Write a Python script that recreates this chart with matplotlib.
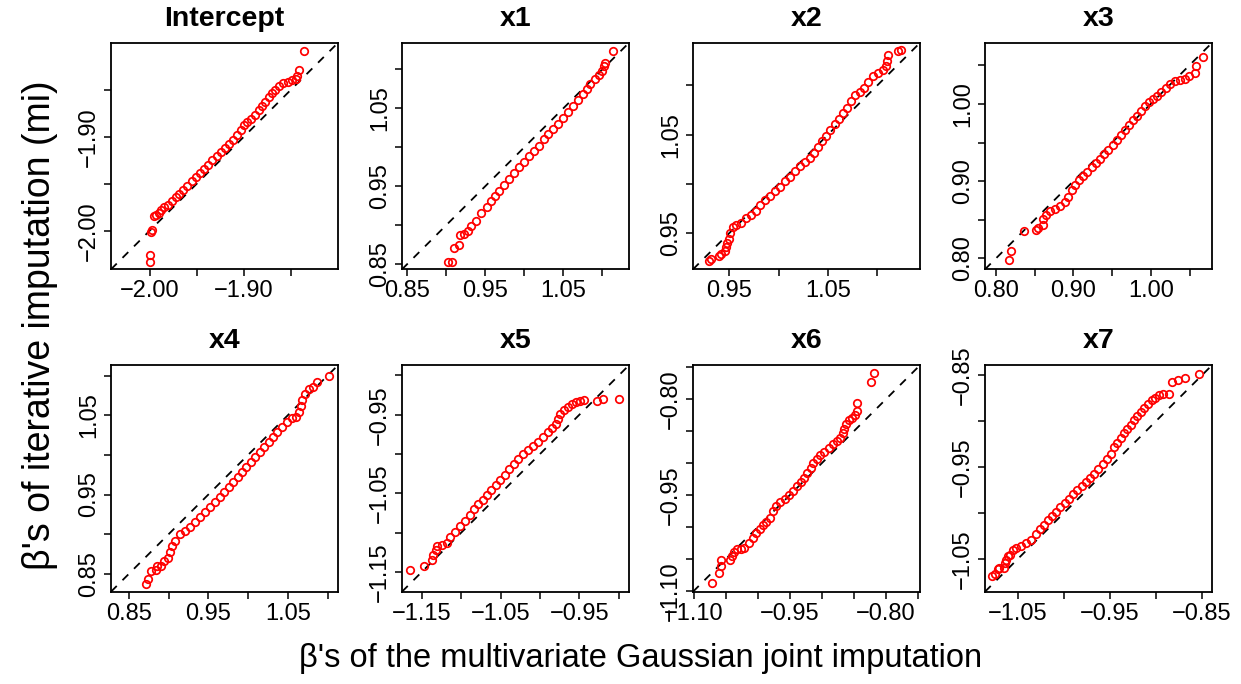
import matplotlib
matplotlib.use("Agg")
import matplotlib.pyplot as plt

plt.rcParams['font.family'] = ['Liberation Sans', 'DejaVu Sans']

panel_titles = ['Intercept', 'x1', 'x2', 'x3', 'x4', 'x5', 'x6', 'x7']

# sorted beta draws: joint imputation (x) vs iterative imputation (y)
intercept_joint = [-1.9993, -1.9993, -1.9986, -1.9972, -1.9958, -1.9933, -1.9905, -1.9877, -1.9845, -1.9810,
                   -1.9764, -1.9718, -1.9683, -1.9641, -1.9599, -1.9553, -1.9507, -1.9465, -1.9419, -1.9377,
                   -1.9335, -1.9289, -1.9243, -1.9201, -1.9155, -1.9113, -1.9070, -1.9035, -1.9000, -1.8965,
                   -1.8919, -1.8877, -1.8842, -1.8806, -1.8771, -1.8736, -1.8701, -1.8665, -1.8630, -1.8585,
                   -1.8532, -1.8486, -1.8451, -1.8433, -1.8415, -1.8356]
intercept_iter = [-2.0328, -2.0256, -2.0011, -1.9993, -1.9847, -1.9829, -1.9808, -1.9779, -1.9751, -1.9722,
                  -1.9687, -1.9644, -1.9608, -1.9566, -1.9519, -1.9473, -1.9430, -1.9387, -1.9341, -1.9295,
                  -1.9252, -1.9206, -1.9163, -1.9117, -1.9074, -1.9031, -1.8978, -1.8932, -1.8878, -1.8843,
                  -1.8807, -1.8771, -1.8718, -1.8675, -1.8629, -1.8575, -1.8533, -1.8497, -1.8462, -1.8433,
                  -1.8415, -1.8397, -1.8390, -1.8355, -1.8291, -1.8088]

x1_joint = [0.9021, 0.9081, 0.9097, 0.9161, 0.9174, 0.9229, 0.9280, 0.9314, 0.9377, 0.9449,
            0.9517, 0.9568, 0.9619, 0.9674, 0.9737, 0.9801, 0.9864, 0.9928, 0.9992, 1.0055,
            1.0119, 1.0182, 1.0246, 1.0309, 1.0373, 1.0436, 1.0500, 1.0564, 1.0627, 1.0691,
            1.0754, 1.0805, 1.0847, 1.0903, 1.0958, 1.0996, 1.1017, 1.1030, 1.1136]
x1_iter = [0.8534, 0.8534, 0.8706, 0.8753, 0.8873, 0.8886, 0.8920, 0.8993, 0.9057, 0.9152,
           0.9229, 0.9306, 0.9379, 0.9443, 0.9521, 0.9593, 0.9666, 0.9744, 0.9816, 0.9889,
           0.9958, 1.0022, 1.0108, 1.0172, 1.0237, 1.0301, 1.0378, 1.0451, 1.0524, 1.0601,
           1.0687, 1.0751, 1.0816, 1.0880, 1.0923, 1.0979, 1.1039, 1.1081, 1.1232]

x2_joint = [0.9295, 0.9315, 0.9396, 0.9416, 0.9456, 0.9473, 0.9480, 0.9500, 0.9513, 0.9540,
            0.9574, 0.9625, 0.9675, 0.9726, 0.9776, 0.9817, 0.9860, 0.9911, 0.9961, 1.0012,
            1.0062, 1.0113, 1.0163, 1.0214, 1.0264, 1.0315, 1.0359, 1.0399, 1.0443, 1.0483,
            1.0524, 1.0567, 1.0608, 1.0652, 1.0692, 1.0736, 1.0776, 1.0820, 1.0860, 1.0904,
            1.0955, 1.1005, 1.1056, 1.1082, 1.1096, 1.1106, 1.1207, 1.1241]
x2_iter = [0.9222, 0.9235, 0.9269, 0.9290, 0.9324, 0.9357, 0.9398, 0.9439, 0.9500, 0.9561,
           0.9585, 0.9609, 0.9653, 0.9687, 0.9721, 0.9788, 0.9833, 0.9880, 0.9928, 0.9968,
           1.0026, 1.0067, 1.0128, 1.0179, 1.0219, 1.0263, 1.0314, 1.0375, 1.0433, 1.0484,
           1.0545, 1.0603, 1.0660, 1.0722, 1.0773, 1.0840, 1.0898, 1.0932, 1.0976, 1.1034,
           1.1095, 1.1122, 1.1156, 1.1190, 1.1248, 1.1305, 1.1349, 1.1356]

x3_joint = [0.8172, 0.8193, 0.8365, 0.8519, 0.8541, 0.8605, 0.8614, 0.8648, 0.8700, 0.8764,
            0.8828, 0.8893, 0.8936, 0.8979, 0.9021, 0.9077, 0.9129, 0.9180, 0.9236, 0.9288,
            0.9343, 0.9395, 0.9451, 0.9506, 0.9558, 0.9609, 0.9665, 0.9717, 0.9773, 0.9824,
            0.9880, 0.9923, 0.9979, 1.0030, 1.0082, 1.0137, 1.0193, 1.0245, 1.0309, 1.0373,
            1.0438, 1.0494, 1.0567, 1.0588, 1.0674]
x3_iter = [0.7974, 0.8103, 0.8360, 0.8364, 0.8394, 0.8437, 0.8514, 0.8565, 0.8608, 0.8638,
           0.8681, 0.8736, 0.8801, 0.8886, 0.8950, 0.9015, 0.9066, 0.9122, 0.9177, 0.9237,
           0.9293, 0.9348, 0.9408, 0.9464, 0.9528, 0.9592, 0.9657, 0.9721, 0.9785, 0.9849,
           0.9914, 0.9978, 1.0021, 1.0063, 1.0106, 1.0149, 1.0205, 1.0256, 1.0299, 1.0308,
           1.0320, 1.0363, 1.0397, 1.0491, 1.0607]

x4_joint = [0.8709, 0.8742, 0.8772, 0.8847, 0.8855, 0.8906, 0.8947, 0.8989, 0.9023, 0.9043,
            0.9085, 0.9148, 0.9211, 0.9273, 0.9336, 0.9399, 0.9462, 0.9524, 0.9587, 0.9650,
            0.9700, 0.9754, 0.9809, 0.9867, 0.9921, 0.9976, 1.0034, 1.0089, 1.0143, 1.0202,
            1.0256, 1.0310, 1.0369, 1.0423, 1.0486, 1.0548, 1.0603, 1.0645, 1.0661, 1.0678,
            1.0716, 1.0766, 1.0812, 1.0862, 1.1017]
x4_iter = [0.8366, 0.8437, 0.8534, 0.8550, 0.8605, 0.8605, 0.8668, 0.8702, 0.8773, 0.8857,
           0.8920, 0.8996, 0.9038, 0.9088, 0.9151, 0.9214, 0.9277, 0.9340, 0.9403, 0.9466,
           0.9529, 0.9592, 0.9655, 0.9718, 0.9782, 0.9845, 0.9908, 0.9971, 1.0034, 1.0097,
           1.0160, 1.0223, 1.0286, 1.0349, 1.0412, 1.0466, 1.0483, 1.0538, 1.0622, 1.0693,
           1.0769, 1.0832, 1.0861, 1.0916, 1.1000]

x5_joint = [-1.1648, -1.1470, -1.1374, -1.1352, -1.1319, -1.1302, -1.1247, -1.1184, -1.1142, -1.1078,
            -1.1015, -1.0952, -1.0889, -1.0838, -1.0783, -1.0728, -1.0669, -1.0615, -1.0560, -1.0501,
            -1.0446, -1.0391, -1.0332, -1.0277, -1.0214, -1.0151, -1.0088, -1.0024, -0.9961, -0.9898,
            -0.9843, -0.9801, -0.9771, -0.9742, -0.9700, -0.9645, -0.9590, -0.9540, -0.9489, -0.9447,
            -0.9278, -0.9202, -0.8992]
x5_iter = [-1.1470, -1.1428, -1.1344, -1.1281, -1.1217, -1.1167, -1.1154, -1.1133, -1.1057, -1.0985,
           -1.0914, -1.0846, -1.0774, -1.0703, -1.0639, -1.0584, -1.0521, -1.0458, -1.0395, -1.0331,
           -1.0268, -1.0196, -1.0120, -1.0057, -1.0002, -0.9951, -0.9901, -0.9846, -0.9783, -0.9719,
           -0.9665, -0.9614, -0.9551, -0.9487, -0.9437, -0.9403, -0.9369, -0.9340, -0.9319, -0.9310,
           -0.9319, -0.9297, -0.9297]

x6_joint = [-1.0711, -1.0605, -1.0579, -1.0579, -1.0437, -1.0405, -1.0368, -1.0332, -1.0263, -1.0211,
            -1.0132, -1.0079, -1.0026, -0.9974, -0.9921, -0.9868, -0.9816, -0.9763, -0.9711, -0.9647,
            -0.9579, -0.9511, -0.9447, -0.9384, -0.9332, -0.9279, -0.9226, -0.9174, -0.9132, -0.9079,
            -0.9026, -0.8963, -0.8895, -0.8826, -0.8763, -0.8711, -0.8668, -0.8647, -0.8616, -0.8579,
            -0.8526, -0.8474, -0.8458, -0.8447, -0.8237, -0.8184]
x6_iter = [-1.0885, -1.0728, -1.0613, -1.0524, -1.0524, -1.0456, -1.0394, -1.0352, -1.0352, -1.0326,
           -1.0247, -1.0169, -1.0101, -1.0038, -0.9975, -0.9923, -0.9855, -0.9751, -0.9672, -0.9610,
           -0.9568, -0.9505, -0.9437, -0.9359, -0.9296, -0.9228, -0.9150, -0.9071, -0.9003, -0.8940,
           -0.8878, -0.8825, -0.8757, -0.8705, -0.8653, -0.8601, -0.8533, -0.8470, -0.8392, -0.8324,
           -0.8287, -0.8250, -0.8182, -0.8062, -0.7722, -0.7592]

x7_joint = [-1.0780, -1.0755, -1.0718, -1.0707, -1.0656, -1.0645, -1.0635, -1.0609, -1.0584, -1.0555,
            -1.0518, -1.0464, -1.0409, -1.0355, -1.0307, -1.0264, -1.0220, -1.0173, -1.0125, -1.0082,
            -1.0038, -0.9991, -0.9944, -0.9900, -0.9856, -0.9809, -0.9762, -0.9718, -0.9675, -0.9627,
            -0.9580, -0.9536, -0.9493, -0.9456, -0.9420, -0.9384, -0.9347, -0.9311, -0.9275, -0.9238,
            -0.9202, -0.9165, -0.9129, -0.9082, -0.9045, -0.9009, -0.8962, -0.8918, -0.8853, -0.8827,
            -0.8755, -0.8682, -0.8525]
x7_iter = [-1.0684, -1.0666, -1.0612, -1.0601, -1.0601, -1.0547, -1.0518, -1.0475, -1.0457, -1.0403,
           -1.0384, -1.0359, -1.0330, -1.0294, -1.0229, -1.0179, -1.0132, -1.0078, -1.0034, -0.9987,
           -0.9940, -0.9890, -0.9843, -0.9796, -0.9753, -0.9709, -0.9662, -0.9616, -0.9572, -0.9518,
           -0.9464, -0.9410, -0.9356, -0.9283, -0.9240, -0.9182, -0.9132, -0.9085, -0.9038, -0.8987,
           -0.8940, -0.8894, -0.8857, -0.8807, -0.8771, -0.8742, -0.8713, -0.8699, -0.8699, -0.8569,
           -0.8554, -0.8532, -0.8489]

joint_values = [intercept_joint, x1_joint, x2_joint, x3_joint, x4_joint, x5_joint, x6_joint, x7_joint]
iter_values = [intercept_iter, x1_iter, x2_iter, x3_iter, x4_iter, x5_iter, x6_iter, x7_iter]

# axis range (same on both axes) and tick positions per panel
axis_ranges = [(-2.041, -1.800), (0.8435, 1.134), (0.9135, 1.143), (0.786, 1.079),
               (0.8275, 1.113), (-1.175, -0.887), (-1.1015, -0.7465), (-1.086, -0.8388)]
tick_values = [[-2.00, -1.95, -1.90, -1.85],
               [0.85, 0.90, 0.95, 1.00, 1.05, 1.10],
               [0.95, 1.00, 1.05, 1.10],
               [0.80, 0.85, 0.90, 0.95, 1.00, 1.05],
               [0.85, 0.90, 0.95, 1.00, 1.05, 1.10],
               [-1.15, -1.10, -1.05, -1.00, -0.95, -0.90],
               [-1.10, -1.05, -1.00, -0.95, -0.90, -0.85, -0.80, -0.75],
               [-1.05, -1.00, -0.95, -0.90, -0.85]]
labelled_ticks = [[-2.00, -1.90],
                  [0.85, 0.95, 1.05],
                  [0.95, 1.05],
                  [0.80, 0.90, 1.00],
                  [0.85, 0.95, 1.05],
                  [-1.15, -1.05, -0.95],
                  [-1.10, -0.95, -0.80],
                  [-1.05, -0.95, -0.85]]


def tick_text(ticks, shown):
    out = []
    for t in ticks:
        if any(abs(t - s) < 1e-9 for s in shown):
            out.append(f"{t:.2f}".replace('-', '\u2212'))
        else:
            out.append('')
    return out


W, H = 1241, 684
fig = plt.figure(figsize=(W / 100, H / 100), dpi=100)

col_left = [111, 402, 693, 985]
row_bottom = [269.3, 591.7]
box = 227

for i, name in enumerate(panel_titles):
    r, c = divmod(i, 4)
    ax = fig.add_axes([col_left[c] / W, 1 - row_bottom[r] / H, box / W, 226.5 / H])
    lo, hi = axis_ranges[i]
    ax.plot([lo, hi], [lo, hi], color='black', lw=1.3, dashes=(4.5, 4.5))
    ax.plot(joint_values[i], iter_values[i], 'o', mfc='none', mec='red', ms=5.4, mew=1.25)
    ax.set_xlim(lo, hi)
    ax.set_ylim(lo, hi)
    labels = tick_text(tick_values[i], labelled_ticks[i])
    ax.set_xticks(tick_values[i])
    ax.set_xticklabels(labels)
    ax.set_yticks(tick_values[i])
    ax.set_yticklabels(labels, rotation=90, va='center')
    ax.tick_params(length=5, width=1.1, labelsize=17, pad=3)
    for sp in ax.spines.values():
        sp.set_linewidth(1.3)
    ax.text(0.5, 1.075, name, transform=ax.transAxes, ha='center', va='baseline',
            fontsize=20.5, fontweight='bold')

fig.text(40 / W, 1 - 325 / H, "\u03b2's of iterative imputation (mi)", rotation=90,
         ha='center', va='center', fontsize=27)
fig.text(641 / W, 1 - 659 / H, "\u03b2's of the multivariate Gaussian joint imputation",
         ha='center', va='center', fontsize=23.5)

fig.savefig('out.png', dpi=100)
